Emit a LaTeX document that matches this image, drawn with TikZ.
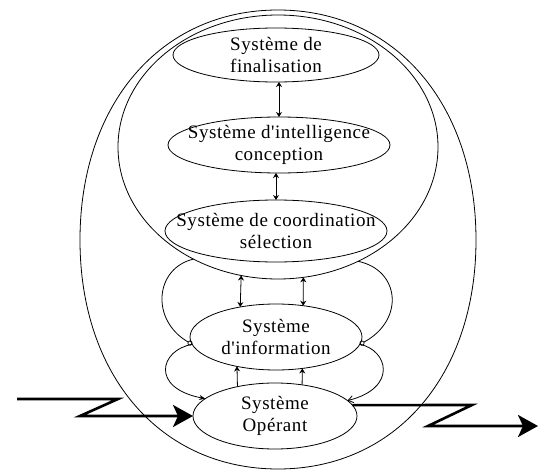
\documentclass[tikz,border=0pt]{standalone}
\usepackage{fontspec}
\setmainfont{Liberation Serif}
\newfontfamily\sysfont[LetterSpace=3]{Liberation Serif}
\usetikzlibrary{arrows.meta,shapes.geometric}
\begin{document}
\begin{tikzpicture}[x=1pt,y=-1pt,line width=0.8pt,
  sysell/.style={draw, ellipse, inner sep=0pt, outer sep=0pt},
  systext/.style={align=center, inner sep=0pt, font=\sysfont\fontsize{19}{22}\selectfont},
  dblarr/.style={{Stealth[length=5pt,width=6pt]}-{Stealth[length=5pt,width=6pt]}},
  uparr/.style={-{Stealth[length=5pt,width=6pt]}},
  loopin/.style={-{Circle[open,length=5pt]}},
  bigarr/.style={line width=2.6pt, line join=miter, -{Stealth[length=20pt,width=22pt,inset=5pt]}}]
\useasboundingbox (0,0) rectangle (539,471);
% outer container (slightly boxy oval)
\draw (476,240) .. controls (476,104) and (395,10) .. (278,10)
      .. controls (161,10) and (80,104) .. (80,240)
      .. controls (80,376) and (161,469) .. (278,469)
      .. controls (395,469) and (476,376) .. (476,240) -- cycle;
% upper container
\node[sysell, minimum width=320pt, minimum height=264pt] (upper) at (278,147) {};
% systems
\node[sysell, minimum width=206pt, minimum height=54pt] (fin) at (276,55) {};
\node[systext] (fint) at (fin) {Système de\\finalisation};
\node[sysell, minimum width=222pt, minimum height=56pt] (intel) at (279,145) {};
\node[systext] (intelt) at (intel) {Système d'intelligence\\conception};
\node[sysell, minimum width=222pt, minimum height=62pt] (coord) at (276,231) {};
\node[systext] (coordt) at (coord) {Système de coordination\\sélection};
\node[sysell, minimum width=172pt, minimum height=66pt] (info) at (276,337) {};
\node[systext] (infot) at (info) {Système\\d'information};
\node[sysell, minimum width=164pt, minimum height=66pt] (oper) at (275,416) {};
\node[systext] (opert) at (oper) {Système\\Opérant};
% vertical links
\draw[dblarr] (intel.north |- fin.south) -- (intel.north);
\draw[dblarr] (coord.north |- intel.south) -- (coord.north);
\draw[dblarr] (upper.-106.5) -- (info.140.2);
\draw[dblarr] (upper.-79.1) -- (info.49.2);
\draw[uparr] (oper.142.5) -- (info.-143);
\draw[uparr] (oper.49.1) -- (info.-50.5);
% loops
\draw[loopin] (upper.-127) .. controls (155,268) and (150,320) .. (info.185);
\draw[loopin] (upper.-55.5) .. controls (400,270) and (405,320) .. (info.-5);
\draw[-{Stealth[length=6pt,width=5pt]}] (info.185) .. controls (160,350) and (150,388) .. (oper.166);
\draw[-{Straight Barb[length=5pt,width=7pt]}] (info.-5) .. controls (388,350) and (398,388) .. (oper.12.4);
% input / output
\coordinate (in0) at (17,399);
\coordinate (in1) at (118,399);
\coordinate (in2) at (80,416);
\draw[bigarr] (in0) -- (in1) -- (in2) -- (oper.west);
\coordinate (out1) at (472,405);
\coordinate (out2) at (428,426);
\coordinate (out3) at (538,426);
\draw[bigarr] (oper.8.1) -- (out1) -- (out2) -- (out3);
\end{tikzpicture}
\end{document}
